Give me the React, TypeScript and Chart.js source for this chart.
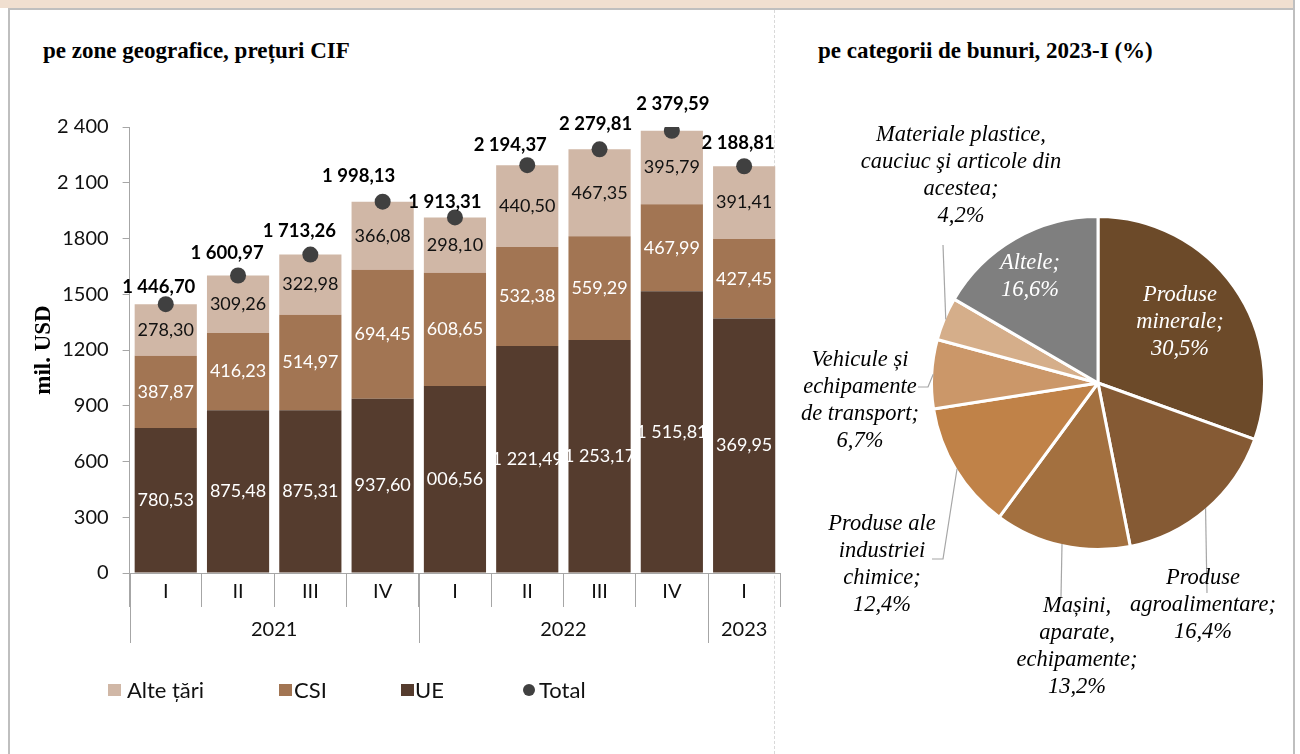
import React, { useEffect, useRef } from 'react';
import { Chart, registerables } from 'chart.js';

Chart.register(...registerables);

// ---------- data: left chart ----------
const quarters = ['I', 'II', 'III', 'IV', 'I', 'II', 'III', 'IV', 'I'];
const years = ['2021', '2022', '2023'];
const yearSpans = [4, 4, 1];
const ueValues = [780.53, 875.48, 875.31, 937.6, 1006.56, 1221.49, 1253.17, 1515.81, 1369.95];
const csiValues = [387.87, 416.23, 514.97, 694.45, 608.65, 532.38, 559.29, 467.99, 427.45];
const alteValues = [278.3, 309.26, 322.98, 366.08, 298.1, 440.5, 467.35, 395.79, 391.41];
const totalValues = [1446.7, 1600.97, 1713.26, 1998.13, 1913.31, 2194.37, 2279.81, 2379.59, 2188.81];
const yTickValues = [0, 300, 600, 900, 1200, 1500, 1800, 2100, 2400];
const yTickLabels = ['0', '300', '600', '900', '1200', '1500', '1800', '2 100', '2 400'];
// UE labels that appear wrapped in the source (thousands group hidden)
const ueWrappedIdx = [4, 8];

// ---------- data: pie ----------
const pieNames = [
  ['Produse', 'minerale;'],
  ['Produse', 'agroalimentare;'],
  ['Mașini,', 'aparate,', 'echipamente;'],
  ['Produse ale', 'industriei', 'chimice;'],
  ['Vehicule și', 'echipamente', 'de transport;'],
  ['Materiale plastice,', 'cauciuc şi articole din', 'acestea;'],
  ['Altele;'],
];
const pieValues = [30.5, 16.4, 13.2, 12.4, 6.7, 4.2, 16.6];

// ---------- styles ----------
const barColors = { ue: '#553C2E', csi: '#A27553', alte: '#D0B7A6' };
const pieColors = ['#6C4A29', '#855A34', '#A3703F', '#C08248', '#CB9769', '#D5AE8A', '#7F7F7F'];
const pieInside = [true, false, false, false, false, false, true];
// total label offsets (dx, lift) as placed in the source
const totalLabelShift = [[-7, 17], [-11, 22], [-11, 24], [-24, 26], [-10, 15], [-17, 20], [-4, 25], [1, 27], [-6, 23]];
// label block centres and leader points, relative to pie centre
const pieLabelPos = [
  [82, -61], [105, 222], [-21, 264], [-216, 182], [-238, 18], [-137, -207], [-68, -106],
];
const pieLeaders: number[][][] = [
  [], [[109, 210]], [[-37, 214]], [[-155, 176], [-166, 176]], [[-170, 4], [-180, 4]], [[-155, -138]], [],
];

const fmt = (v: number, dec = 2) => {
  const [i, d] = v.toFixed(dec).split('.');
  return i.replace(/\B(?=(\d{3})+(?!\d))/g, ' ') + ',' + d;
};

const SANS = 'Lato, "Open Sans", sans-serif';
const SERIF = '"Liberation Serif", "DejaVu Serif", serif';

export default function App() {
  const barRef = useRef<HTMLCanvasElement>(null);
  const pieRef = useRef<HTMLCanvasElement>(null);

  useEffect(() => {
    const barLabels = {
      id: 'barLabels',
      afterDatasetsDraw(chart: any) {
        const ctx = chart.ctx;
        ctx.save();
        ctx.textAlign = 'center';
        ctx.textBaseline = 'middle';
        const colors = ['#ffffff', '#ffffff', '#111111'];
        for (let d = 0; d < 3; d++) {
          const meta = chart.getDatasetMeta(d);
          const vals = chart.data.datasets[d].data as number[];
          meta.data.forEach((el: any, i: number) => {
            let t = fmt(vals[i]);
            if (d === 0 && ueWrappedIdx.includes(i)) t = t.split(' ').slice(1).join(' ');
            ctx.fillStyle = colors[d];
            ctx.font = `18px ${SANS}`;
            ctx.fillText(t, el.x, (el.y + el.base) / 2);
          });
        }
        const tm = chart.getDatasetMeta(3);
        ctx.font = `bold 18.5px ${SANS}`;
        ctx.fillStyle = '#000';
        tm.data.forEach((el: any, i: number) => {
          const [dx, lift] = totalLabelShift[i];
          ctx.fillText(fmt(totalValues[i]), el.x + dx, el.y - lift);
        });
        // year separators and labels
        const xs = chart.scales.x;
        const top = xs.top;
        const half = (xs.getPixelForValue(1) - xs.getPixelForValue(0)) / 2;
        ctx.strokeStyle = '#A6A6A6';
        ctx.lineWidth = 1;
        let start = 0;
        ctx.font = `20px ${SANS}`;
        ctx.fillStyle = '#111';
        years.forEach((y, k) => {
          const x0 = xs.getPixelForValue(start) - half;
          ctx.beginPath();
          ctx.moveTo(Math.round(x0) + 0.5, top);
          ctx.lineTo(Math.round(x0) + 0.5, top + 70);
          ctx.stroke();
          const x1 = xs.getPixelForValue(start + yearSpans[k] - 1) + half;
          ctx.fillText(y, (x0 + x1) / 2, top + 57);
          start += yearSpans[k];
        });
        ctx.restore();
      },
    };

    const bar = new Chart(barRef.current!, {
      type: 'bar',
      data: {
        labels: quarters,
        datasets: [
          { label: 'UE', data: ueValues, backgroundColor: barColors.ue, stack: 's', order: 1 } as any,
          { label: 'CSI', data: csiValues, backgroundColor: barColors.csi, stack: 's', order: 1 },
          { label: 'Alte țări', data: alteValues, backgroundColor: barColors.alte, stack: 's', order: 1 },
          {
            label: 'Total', type: 'line', data: totalValues, showLine: false, pointRadius: 8,
            pointBackgroundColor: '#404040', pointBorderWidth: 0, borderColor: '#404040', stack: 't', order: 0,
          },
        ],
      },
      options: {
        animation: false,
        responsive: false,
        maintainAspectRatio: false,
        layout: { padding: { top: 127, right: 9.7, left: 30, bottom: 0 } },
        plugins: { legend: { display: false }, tooltip: { enabled: false } },
        datasets: { bar: { barPercentage: 0.86, categoryPercentage: 1 } },
        scales: {
          x: {
            stacked: true,
            grid: { display: true, drawOnChartArea: false, tickLength: 34, color: '#A6A6A6', offset: true },
            border: { color: '#A6A6A6' },
            ticks: { font: { family: SANS, size: 20 }, color: '#111', padding: -27 },
            afterFit: (s: any) => { s.height = 181; },
          },
          y: {
            stacked: true,
            min: 0,
            max: 2400,
            afterBuildTicks: (s: any) => { s.ticks = yTickValues.map((v) => ({ value: v })); },
            ticks: {
              font: { family: SANS, size: 20 },
              color: '#111',
              padding: 14,
              callback: (v: any) => yTickLabels[yTickValues.indexOf(Number(v))] ?? String(v),
            },
            grid: { drawOnChartArea: false, tickLength: 7, color: '#A6A6A6' },
            border: { color: '#A6A6A6' },
            title: {
              display: true, text: 'mil. USD', color: '#000',
              font: { family: SERIF, size: 23, weight: 'bold' }, padding: { top: 0, bottom: 0 },
            },
            afterFit: (s: any) => { s.width = 99.6; },
          },
        },
      },
      plugins: [barLabels],
    });

    const pieLabels = {
      id: 'pieLabels',
      afterDatasetsDraw(chart: any) {
        const ctx = chart.ctx;
        const meta = chart.getDatasetMeta(0);
        ctx.save();
        ctx.font = `italic 22.5px ${SERIF}`;
        ctx.textAlign = 'center';
        ctx.textBaseline = 'middle';
        meta.data.forEach((arc: any, i: number) => {
          const cx = arc.x, cy = arc.y;
          const mid = (arc.startAngle + arc.endAngle) / 2;
          const r = arc.outerRadius - 1.5;
          const pts = pieLeaders[i];
          if (pts.length) {
            ctx.strokeStyle = '#A6A6A6';
            ctx.lineWidth = 1.2;
            ctx.beginPath();
            ctx.moveTo(cx + r * Math.cos(mid), cy + r * Math.sin(mid));
            pts.forEach((p) => ctx.lineTo(cx + p[0], cy + p[1]));
            ctx.stroke();
          }
          const lines = [...pieNames[i], fmt(pieValues[i], 1) + '%'];
          const lh = 27;
          const [dx, dy] = pieLabelPos[i];
          ctx.fillStyle = pieInside[i] ? '#ffffff' : '#000000';
          lines.forEach((t, k) => {
            ctx.fillText(t, cx + dx, cy + dy + (k - (lines.length - 1) / 2) * lh);
          });
        });
        ctx.restore();
      },
    };

    const pie = new Chart(pieRef.current!, {
      type: 'pie',
      data: {
        labels: pieNames.map((n) => n.join(' ')),
        datasets: [{ data: pieValues, backgroundColor: pieColors, borderColor: '#ffffff', borderWidth: 3, radius: 166.5 } as any],
      },
      options: {
        animation: false,
        responsive: false,
        maintainAspectRatio: false,
        layout: { padding: { left: 222, right: 95, top: 283, bottom: 271 } },
        plugins: { legend: { display: false }, tooltip: { enabled: false } },
      },
      plugins: [pieLabels],
    });

    return () => { bar.destroy(); pie.destroy(); };
  }, []);

  const abs = (s: React.CSSProperties): React.CSSProperties => ({ position: 'absolute', ...s });
  const titleStyle: React.CSSProperties = {
    fontFamily: SERIF, fontWeight: 'bold', fontSize: 23, color: '#000', lineHeight: '26px', whiteSpace: 'nowrap',
  };
  const legText: React.CSSProperties = { fontFamily: SANS, fontSize: 22, color: '#111', lineHeight: '24px', whiteSpace: 'nowrap' };

  return (
    <div style={abs({ left: 0, top: 0, width: 1300, height: 754, background: '#fff', overflow: 'hidden' })}>
      <div style={abs({ left: 0, top: 0, width: 1294, height: 8, background: '#F0DFD0' })} />
      <div style={abs({ left: 8, top: 8, width: 1287, height: 2, background: '#BFBFBF' })} />
      <div style={abs({ left: 8, top: 8, width: 2, height: 746, background: '#BFBFBF' })} />
      <div style={abs({ left: 1293, top: 0, width: 2, height: 754, background: '#BFBFBF' })} />
      <div style={abs({ left: 774, top: 10, width: 0, height: 744, borderLeft: '1px dashed #D9D9D9' })} />
      <div style={abs({ left: 43, top: 38, ...titleStyle })}>pe zone geografice, prețuri CIF</div>
      <div style={abs({ left: 818, top: 38, ...titleStyle })}>pe categorii de bunuri, 2023-I (%)</div>
      <canvas ref={barRef} width={790} height={754} style={abs({ left: 0, top: 0, width: 790, height: 754 })} />
      <canvas ref={pieRef} width={517} height={754} style={abs({ left: 776, top: 0, width: 517, height: 754 })} />
      <div style={abs({ left: 108, top: 684, width: 13, height: 12, background: barColors.alte })} />
      <div style={abs({ left: 127, top: 678, ...legText })}>Alte țări</div>
      <div style={abs({ left: 279, top: 684, width: 13, height: 12, background: barColors.csi })} />
      <div style={abs({ left: 294, top: 678, ...legText })}>CSI</div>
      <div style={abs({ left: 401, top: 684, width: 13, height: 12, background: barColors.ue })} />
      <div style={abs({ left: 415, top: 678, ...legText })}>UE</div>
      <div style={abs({ left: 523, top: 684, width: 12, height: 12, borderRadius: 6, background: '#404040' })} />
      <div style={abs({ left: 539, top: 678, ...legText })}>Total</div>
    </div>
  );
}
